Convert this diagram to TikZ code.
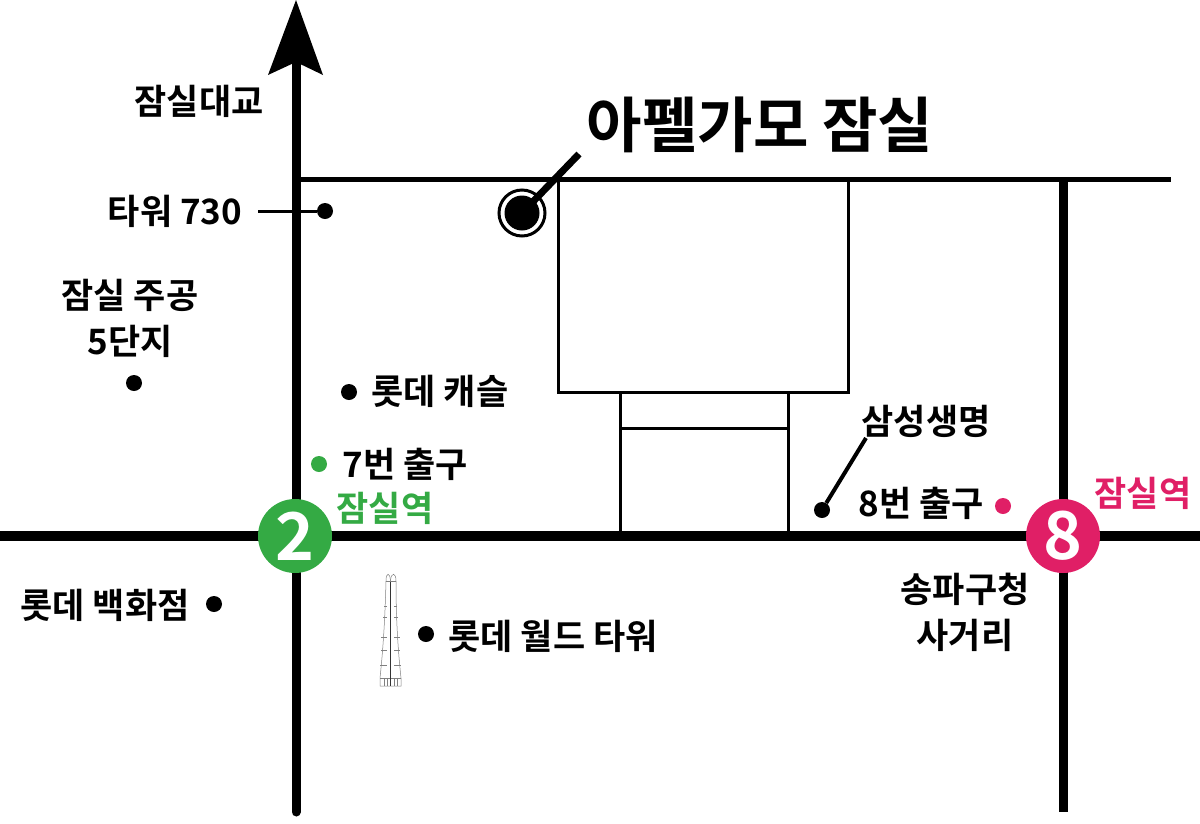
\documentclass[tikz,border=0pt]{standalone}
\usepackage{fontspec}
\setmainfont{Noto Sans CJK KR}[BoldFont={* Bold}]
\usetikzlibrary{positioning}
\definecolor{linegreen}{RGB}{52, 170, 68}
\definecolor{linepink}{RGB}{224, 31, 102}

\tikzset{
    place/.style={font=\fontsize{35}{46}\selectfont\bfseries, text=black, inner sep=0pt, align=center},
    dot/.style={circle, fill=black, minimum size=16pt, inner sep=0pt},
    road/.style={line width=9pt},
    station/.style={circle, minimum size=74pt, inner sep=0pt, text=white, font=\fontsize{66}{70}\selectfont\bfseries},
    towerline/.style={line width=0.5pt, draw=black!50}
}

\begin{document}
\begin{tikzpicture}[x=1pt, y=-1pt]
        \useasboundingbox (0,0) rectangle (1200,823);

        % Roads
        \coordinate (northEnd) at (296,50);
        \coordinate (southEnd) at (296,812);
        \coordinate (westEnd) at (0,536);
        \coordinate (eastEnd) at (1200,536);
        \coordinate (topLeft) at (296,179);
        \coordinate (topRight) at (1171,179);
        \coordinate (rightTop) at (1063,179);
        \coordinate (rightEnd) at (1063,812);
        \draw[road, line cap=round] (southEnd) -- (northEnd);
        \fill (296,0) -- (323,75) -- (296,62) -- (268,75) -- cycle;
        \draw[road, line width=10pt] (westEnd) -- (eastEnd);
        \draw[line width=5pt] (topLeft) -- (topRight);
        \draw[road] (rightTop) -- (rightEnd);

        % Buildings
        \draw[line width=3pt] (558,179) -- (558,392) -- (848,392) -- (848,179);
        \draw[line width=3pt] (620,536) -- (620,392) (788,392) -- (788,536) (620,428) -- (788,428);

        % Stations
        \node[station, fill=linegreen] (lineTwo) at (295,536) {2};
        \node[station, fill=linepink] (lineEight) at (1063,536) {8};
        \node[place, text=linegreen] (jamsilGreen) at (385,508) {잠실역};
        \node[place, text=linepink] (jamsilPink) at (1143,493) {잠실역};

        % Shop
        \coordinate (shopEnd) at (579,154);
        \node[circle, draw=black, line width=3pt, fill=white, minimum size=46pt, inner sep=0pt] (shopRing) at (522,213) {};
        \node[circle, fill=black, minimum size=35pt, inner sep=0pt] (shop) at (522,213) {};
        \draw[line width=7pt] (shop.center) -- (shopEnd);
        \node[place, font=\fontsize{60.3}{70}\selectfont\bfseries] (shopName) at (760,125) {아펠가모 잠실};

        % Landmarks
        \node[place] (bridge) at (199,101) {잠실대교};
        \node[place] (tower730) at (175,211) {타워 730};
        \node[dot] (towerDot) at (325,211) {};
        \coordinate (towerEnd) at (258,211);
        \draw[line width=3pt] (towerEnd) -- (towerDot);
        \node[place] (jugong) at (130,318) {잠실 주공\\5단지};
        \node[dot] (jugongDot) at (134,383) {};
        \node[dot] (castleDot) at (349,392) {};
        \node[place] (castle) at (440,391) {롯데 캐슬};
        \node[dot, fill=linegreen] (exitSeven) at (319,464) {};
        \node[place] (exitSevenText) at (405,464) {7번 출구};
        \node[place] (samsung) at (926,421) {삼성생명};
        \coordinate (samsungEnd) at (866,438);
        \node[dot] (samsungDot) at (822,510) {};
        \draw[line width=4pt] (samsungEnd) -- (samsungDot);
        \node[place] (exitEightText) at (921,503) {8번 출구};
        \node[dot, fill=linepink] (exitEight) at (1003,506) {};
        \node[place] (songpa) at (965,612) {송파구청\\사거리};
        \node[place] (lotteStore) at (105,605) {롯데 백화점};
        \node[dot] (storeDot) at (214,604) {};
        \node[dot] (worldDot) at (426,634) {};
        \node[place] (lotteWorld) at (553,636) {롯데 월드 타워};

        % Tower drawing
        \begin{scope}[towerline]
            \draw (386,581) .. controls (385,620) and (383,650) .. (380,678) -- (380,686) -- (401,686) -- (401,678) .. controls (398,650) and (396,620) .. (396,581);
            \draw (386,581) .. controls (386,572) and (390,572) .. (390.5,581);
            \draw (396,581) .. controls (396,572) and (391,572) .. (390.5,581);
            \draw (386,581) -- (396,581) (380,678) -- (401,678);
            \draw[line width=1.2pt, draw=black!80] (390.5,582) -- (390.5,686);
            \foreach \x in {384,387,394,397} {
                \draw (\x,678) -- (\x,686);
            }
            \foreach \y/\w in {606/3, 617/4, 637/6, 650/6, 665/7} {
                \draw[line width=1pt] (387-\w,\y) -- (387,\y) (394,\y) -- (394+\w,\y);
            }
        \end{scope}

    \end{tikzpicture}
\end{document}
